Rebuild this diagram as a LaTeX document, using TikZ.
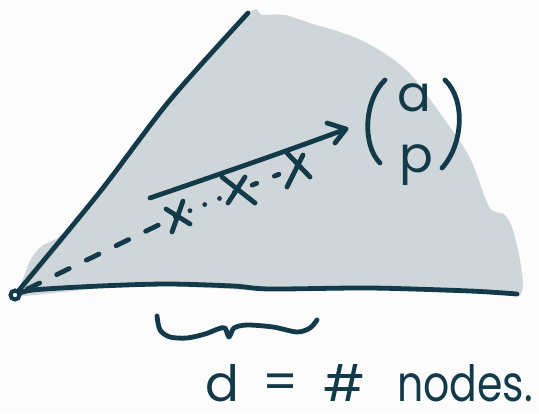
\documentclass[tikz,border=0pt]{standalone}
\usepackage{fontspec}
\newfontfamily\hand{Poppins}
\newfontfamily\handnarrow[FakeStretch=0.82]{Poppins}
\definecolor{ink}{HTML}{123A48}
\definecolor{conegray}{HTML}{CED6DA}
\definecolor{paper}{HTML}{FCFCFC}
\begin{document}
\begin{tikzpicture}[x=1pt,y=-1pt,
  pen/.style={draw=ink,line width=4.8pt,line cap=round,line join=round},
  hw/.style={text=ink,inner sep=0pt,font=\hand\fontsize{50}{58}\selectfont},
  hwn/.style={text=ink,inner sep=0pt,font=\handnarrow\fontsize{50}{58}\selectfont}]
\useasboundingbox[fill=paper] (0,0) rectangle (539,413);
% shaded region
\fill[conegray] plot[smooth,tension=0.5] coordinates {(15,297) (24,276) (31,259) (42,246) (64,233) (100,190) (170,98) (248,14) (262,15) (285,15) (313,24) (340,32) (363,41) (390,57) (413,77) (447,123) (470,158) (488,205) (496,212) (505,215) (513,230) (520,260) (523,285) (520,296)} -- (470,293) -- (370,290) -- (270,291) -- (167,286) -- (100,288) -- cycle;
% named points
\coordinate (O) at (15,295);
\coordinate (X1) at (177,216);
\coordinate (X2) at (240,190);
\coordinate (X3) at (297,167);
\coordinate (A0) at (150,198);
\coordinate (A1) at (346,129);
% cone edges
\draw[pen] plot[smooth] coordinates {(O) (99,193) (170,100) (248,13)};
\draw[pen] plot[smooth] coordinates {(O) (33,290) (100,286) (167,284) (233,286) (270,289) (370,288) (470,291) (517,294)};
% dashed path with marks
\draw[pen,dash pattern=on 14pt off 19pt,dash phase=19.6pt] (O) -- (X1);
\draw[pen,dash pattern=on 0pt off 16pt,dash phase=2pt] (X1) -- (X2);
\draw[pen,dash pattern=on 5pt off 19pt,dash phase=11pt] (X2) -- (X3);
\draw[pen] (183,201) -- (172,232);
\draw[pen] (166,209) -- (190,224);
\draw[pen] (222,177) -- (255,203);
\draw[pen] (245,177) -- (228,203);
\draw[pen] (287,153) -- (310,177);
\draw[pen] (303,155) -- (287,187);
% arrow
\draw[pen] (A0) .. controls (220,174) and (290,150) .. (A1);
\draw[pen] (327,123) -- (A1) -- (335,143);
% origin ring
\draw[draw=ink,line width=4pt,fill=paper] (O) circle (4.5pt);
% vector
\draw[pen] (385,80) .. controls (364,100) and (362,145) .. (380,163);
\draw[pen] (445,80) .. controls (466,100) and (463,145) .. (442,168);
\node[hw] (qa) at (414,98) {a};
\node[hw] (qp) at (416,165) {p};
% brace
\draw[pen] plot[smooth] coordinates {(157,316) (160,330) (170,337) (187,338) (205,334) (218,329) (225,328) (229,337) (234,328) (247,325) (273,327) (297,332) (310,328) (317,320)};
% label
\node[hw,anchor=base] (dd) at (222,401) {d};
\node[hw,anchor=center] (eq) at (281,387) {=};
\node[hw,anchor=base] (hash) at (344,401) {\#};
\node[hwn,anchor=base west] (nodes) at (397,401) {nodes.};
\end{tikzpicture}
\end{document}
